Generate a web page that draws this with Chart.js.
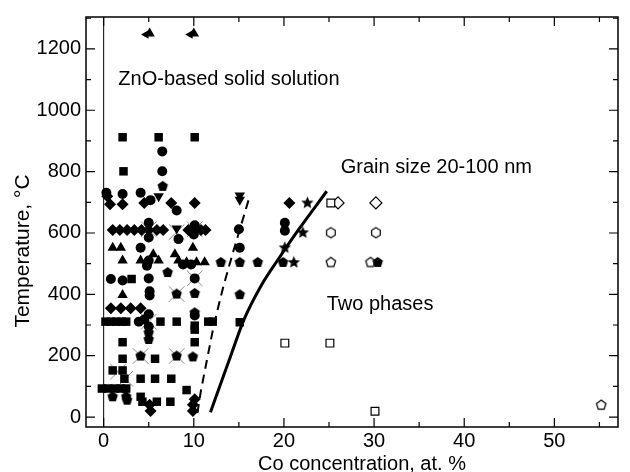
<!DOCTYPE html>
<html>
<head>
<meta charset="utf-8">
<script src="https://cdn.jsdelivr.net/npm/chart.js@4.4.0/dist/chart.umd.min.js"></script>
<style>
  html, body { margin: 0; padding: 0; background: #fff; }
</style>
</head>
<body>
<canvas id="phaseChart" width="630" height="472"></canvas>
<script>
// Co in ZnO - phase diagram, temperature vs Co content

const xTicks = [0, 10, 20, 30, 40, 50];
const yTicks = [0, 200, 400, 600, 800, 1000, 1200];

const filledSquares = [
    [2.1, 912], [6.1, 912], [10.1, 912], [2.2, 801], [3.1, 450],
    [0.2, 311], [0.8, 311], [1.4, 311], [2.0, 311], [2.5, 311], [6.3, 311], [8.1, 311],
    [10.1, 298], [10.1, 285], [11.6, 311], [12.1, 311], [15.1, 309],
    [2.1, 244], [10.1, 244], [2.1, 190], [5.7, 190], [1.0, 152], [2.1, 152],
    [2.3, 125], [4.1, 125], [5.7, 125], [7.5, 125],
    [-0.2, 93], [0.5, 93], [1.2, 93], [1.9, 93], [2.5, 93], [9.2, 88],
    [4.1, 66], [4.3, 50], [5.9, 50], [7.4, 50]
];
const filledCircles = [
    [6.5, 866], [6.5, 801], [0.3, 731], [2.1, 727], [4.1, 731], [5.2, 707], [8.1, 673],
    [5.0, 633], [5.0, 585], [10.1, 625], [10.0, 595], [15.0, 612], [15.1, 552], [4.1, 552],
    [20.1, 633], [20.1, 607], [4.8, 493], [5.0, 510], [8.8, 497], [9.7, 497],
    [0.8, 450], [2.1, 445], [5.0, 452], [10.1, 452], [5.1, 396], [5.1, 410],
    [4.5, 318], [5.0, 335], [5.0, 295], [3.9, 311], [10.1, 331], [8.3, 580]
];
const filledTriangles = [
    [5.1, 1250], [10.0, 1250], [1.0, 552], [1.9, 552], [9.9, 552],
    [2.1, 510], [4.1, 510], [5.5, 531], [6.1, 510], [7.9, 531], [8.3, 510],
    [9.2, 505], [10.3, 505], [11.2, 505], [2.1, 398]
];
const leftTriangles = [[4.7, 1247], [9.6, 1247]];
const downTriangles = [[6.1, 720], [15.1, 722], [15.1, 708], [8.1, 615]];
const filledDiamonds = [
    [0.4, 720], [0.7, 694], [2.1, 694], [4.5, 698], [7.5, 698], [10.1, 698], [20.6, 698],
    [1.0, 610], [1.8, 610], [2.6, 610], [3.4, 610], [4.2, 610], [5.0, 610], [5.9, 610],
    [6.6, 610], [9.4, 610], [10.8, 610], [11.3, 610],
    [0.8, 355], [1.9, 355], [3.0, 355], [4.1, 355],
    [5.2, 20], [5.1, 40], [9.9, 40], [9.9, 20], [10.1, 58]
];
const filledPentagons = [
    [6.55, 752], [13.0, 504], [15.1, 504], [17.1, 504], [19.9, 504], [30.4, 504],
    [15.1, 399], [7.1, 471], [8.1, 401], [10.1, 403], [5.0, 253], [4.1, 199],
    [8.1, 199], [9.9, 196], [1.0, 66], [2.5, 66], [2.6, 55], [10.1, 340], [5.0, 275]
];
const filledStars = [[22.6, 698], [22.1, 601], [20.1, 552], [21.1, 504]];
const openSquares = [[25.2, 698], [20.1, 241], [25.1, 241], [30.1, 19]];
const openDiamonds = [[26.0, 698], [30.2, 698]];
const openHexagons = [[25.2, 601], [30.2, 601]];
const openPentagons = [[25.2, 504], [29.6, 504], [55.2, 39]];
const greyCrosses = [
    [5.0, 612], [8.1, 603], [10.1, 612], [10.1, 452], [8.1, 401], [5.0, 311],
    [4.1, 199], [8.1, 199], [1.6, 148], [2.4, 125]
];

// boundary lines
const solidX = [11.85, 13.0, 14.05, 15.6, 17.5, 19.5, 21.6, 24.75];
const solidT = [16, 110, 196, 320, 430, 520, 610, 736];
const dashX = [10.4, 10.8, 12.25, 13.3, 14.4, 16.2];
const dashT = [13, 88, 304, 428, 542, 720];
const zeroX = [0, 0];
const zeroT = [-32.4, 1304];

const noteText = ['ZnO-based solid solution', 'Grain size 20-100 nm', 'Two phases'];
const noteX = [1.63, 26.3, 24.75];
const noteT = [1100, 814, 366];

const FONT = '"Liberation Sans", Arial, sans-serif';

let toPoints = function (list) {
    return list.map(function (p) { return { x: p[0], y: p[1] }; });
};
let toLine = function (xs, ys) {
    return xs.map(function (x, i) { return { x: x, y: ys[i] }; });
};

// polygon / star markers drawn on small canvases
let shapeMarker = function (sides, r, filled, inner) {
    let size = Math.ceil(r * 2 + 4);
    let c = document.createElement('canvas');
    c.width = size;
    c.height = size;
    let g = c.getContext('2d');
    let n = inner ? sides * 2 : sides;
    g.beginPath();
    for (let i = 0; i < n; i++) {
        let a = -Math.PI / 2 + i * 2 * Math.PI / n;
        let rr = inner && i % 2 ? r * inner : r;
        let px = size / 2 + rr * Math.cos(a);
        let py = size / 2 + rr * Math.sin(a);
        if (i === 0) g.moveTo(px, py); else g.lineTo(px, py);
    }
    g.closePath();
    if (filled) {
        g.fillStyle = '#000';
        g.fill();
    } else {
        g.fillStyle = '#fff';
        g.fill();
        g.lineWidth = 1.2;
        g.strokeStyle = '#000';
        g.stroke();
    }
    return c;
};

let pentFilled = shapeMarker(5, 5.5, true);
let pentOpen = shapeMarker(5, 5, false);
let hexOpen = shapeMarker(6, 5, false);
let starFilled = shapeMarker(5, 6.5, true, 0.45);

let markerSet = function (list, style, radius, opts) {
    return Object.assign({
        data: toPoints(list),
        pointStyle: style,
        pointRadius: radius,
        backgroundColor: '#000',
        borderColor: '#000',
        borderWidth: 0,
        showLine: false
    }, opts || {});
};

let datasets = [
    markerSet(filledSquares, 'rect', 6),
    markerSet(filledCircles, 'circle', 5),
    markerSet(filledTriangles, 'triangle', 6),
    markerSet(leftTriangles, 'triangle', 5, { rotation: -90 }),
    markerSet(downTriangles, 'triangle', 6, { rotation: 180 }),
    markerSet(filledDiamonds, 'rectRot', 6),
    markerSet(filledPentagons, pentFilled, 6),
    markerSet(filledStars, starFilled, 7),
    markerSet(openSquares, 'rect', 5.5, { backgroundColor: '#fff', borderWidth: 1.2 }),
    markerSet(openDiamonds, 'rectRot', 6, { backgroundColor: '#fff', borderWidth: 1.2 }),
    markerSet(openHexagons, hexOpen, 6),
    markerSet(openPentagons, pentOpen, 6),
    {
        data: toLine(solidX, solidT), showLine: true, pointRadius: 0,
        borderColor: '#000', borderWidth: 3, cubicInterpolationMode: 'monotone'
    },
    {
        data: toLine(dashX, dashT), showLine: true, pointRadius: 0,
        borderColor: '#000', borderWidth: 2, borderDash: [9, 6]
    },
    {
        data: toLine(zeroX, zeroT), showLine: true, pointRadius: 0,
        borderColor: '#000', borderWidth: 1
    },
    markerSet(greyCrosses, 'crossRot', 11, { borderColor: '#8c8c8c', borderWidth: 1 })
];

// frame, inside ticks, notes and axis titles
let framePlugin = {
    id: 'frame',
    afterDatasetsDraw: function (chart) {
        let ctx = chart.ctx;
        let a = chart.chartArea;
        let xs = chart.scales.x;
        let ys = chart.scales.y;
        ctx.save();
        ctx.strokeStyle = '#000';
        ctx.lineWidth = 1.5;
        ctx.strokeRect(a.left, a.top, a.right - a.left, a.bottom - a.top);

        ctx.lineWidth = 1.2;
        ctx.beginPath();
        for (let v = 0; v <= 55; v += 5) {
            let px = xs.getPixelForValue(v);
            let len = v % 10 === 0 ? 9 : 5;
            ctx.moveTo(px, a.bottom); ctx.lineTo(px, a.bottom - len);
            ctx.moveTo(px, a.top); ctx.lineTo(px, a.top + len);
        }
        for (let v = 0; v <= 1300; v += 100) {
            let py = ys.getPixelForValue(v);
            let len = v % 200 === 0 ? 9 : 5;
            ctx.moveTo(a.left, py); ctx.lineTo(a.left + len, py);
            ctx.moveTo(a.right, py); ctx.lineTo(a.right - len, py);
        }
        ctx.stroke();

        ctx.fillStyle = '#000';
        ctx.font = '20px ' + FONT;
        ctx.textAlign = 'left';
        ctx.textBaseline = 'middle';
        noteText.forEach(function (t, i) {
            ctx.fillText(t, xs.getPixelForValue(noteX[i]), ys.getPixelForValue(noteT[i]));
        });

        ctx.textAlign = 'center';
        ctx.fillText('Co concentration, at. %', 362, 464);

        ctx.font = '21px ' + FONT;
        ctx.translate(23, 251);
        ctx.rotate(-Math.PI / 2);
        ctx.fillText('Temperature, \u00B0C', 0, 0);
        ctx.restore();
    }
};

let plainTick = function (v) { return String(v); };

let ctx = document.getElementById('phaseChart').getContext('2d');
window.phaseChart = new Chart(ctx, {
    type: 'scatter',
    data: { datasets: datasets },
    options: {
        responsive: false,
        animation: false,
        devicePixelRatio: 1,
        layout: { padding: { top: 15, right: 1, left: 0, bottom: 0 } },
        plugins: {
            legend: { display: false },
            tooltip: { enabled: false }
        },
        scales: {
            x: {
                type: 'linear',
                min: -1.96,
                max: 57.06,
                afterBuildTicks: function (s) { s.ticks = xTicks.map(function (v) { return { value: v }; }); },
                afterFit: function (s) { s.height = 45; },
                grid: { display: false, drawTicks: false },
                border: { display: false },
                ticks: { color: '#000', font: { family: FONT, size: 20 }, padding: 2, maxRotation: 0, callback: plainTick }
            },
            y: {
                type: 'linear',
                min: -32.4,
                max: 1304,
                afterBuildTicks: function (s) { s.ticks = yTicks.map(function (v) { return { value: v }; }); },
                afterFit: function (s) { s.width = 86; },
                grid: { display: false, drawTicks: false },
                border: { display: false },
                ticks: { color: '#000', font: { family: FONT, size: 20 }, padding: 5, callback: plainTick }
            }
        }
    },
    plugins: [framePlugin]
});
</script>
</body>
</html>
